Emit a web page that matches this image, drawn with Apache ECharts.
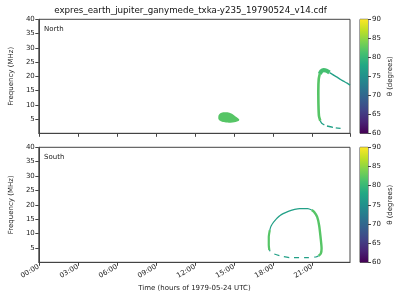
<!DOCTYPE html>
<html><head><meta charset="utf-8">
<script src="https://cdn.jsdelivr.net/npm/echarts@6/dist/echarts.min.js"></script>
<style>html,body{margin:0;padding:0;background:#fff}#c{width:400px;height:300px}</style>
</head><body><div id="c"></div>
<script>
const titleText = 'expres_earth_jupiter_ganymede_txka-y235_19790524_v14.cdf';
const panelNames = ['North', 'South'];
const xAxisTitle = 'Time (hours of 1979-05-24 UTC)';
const yAxisTitle = 'Frequency (MHz)';
const cbarTitle = 'θ (degrees)';
const xTickStep = 3;          // hours
const yTickStep = 5;          // MHz
const thetaRange = [60, 90];  // colorbar
const thetaTickStep = 5;

// ---- North panel emission: [time (h), frequency (MHz)] ----
const northBlob = [[13.8,5.6],[13.85,6.5],[14.05,7.2],[14.4,7.35],[14.75,7.0],[15.1,6.0],[15.4,4.9],[15.35,4.3],[14.9,3.8],[14.4,3.75],[14.0,4.2],[13.82,4.9]];
const northBlobTheta = 82;
const northVertical = [[21.64,4.4],[21.54,6],[21.5,10],[21.49,15],[21.52,19],[21.6,20.8]];
const northVerticalTheta = 82;
const northTop = [[21.6,20.8],[21.72,21.8],[21.9,22.2],[22.1,22.0],[22.35,21.3]];
const northTopTheta = 81;
const northTail = [[22.35,21.3],[22.6,20.6],[22.93,19.7],[23.2,18.9],[23.42,18.3],[23.7,17.6],[23.93,16.9]];
const northTailTheta = 77;
const northBottom = [[21.64,4.4],[21.75,3.5],[22.05,2.7],[22.43,2.3],[22.8,1.95],[23.2,1.75]];
const northBottomTheta = 77;

// ---- South panel emission ----
const southLeft = [[17.72,4.2],[17.68,6],[17.68,8.8],[17.76,11.2]];
const southLeftTheta = 82;
const southTop = [[17.76,11.2],[17.85,12.5],[18.05,14.0],[18.55,16.3],[19.18,17.7],[19.67,18.4],[20.05,18.7],[20.68,18.7],[20.98,18.2]];
const southTopTheta = 77;
const southRight = [[20.98,18.2],[21.17,17.5],[21.4,15.8],[21.55,12.9],[21.66,8.8],[21.74,4.8],[21.68,3.0],[21.52,2.3]];
const southRightTheta = 82;
const southBottom = [[21.52,2.3],[21.3,1.85],[20.42,1.6],[19.43,1.6],[18.68,2.1],[18.05,3.0],[17.72,4.2]];
const southBottomTheta = 77;

const viridis = ['#440154','#482475','#414487','#355f8d','#2a788e','#21918c','#22a884','#44bf70','#7ad151','#bddf26','#fde725'];
function hex2rgb(h){return [1,3,5].map(i=>parseInt(h.substr(i,2),16));}
function thetaColor(th){
  let t = (th - thetaRange[0])/(thetaRange[1]-thetaRange[0]);
  t = Math.max(0, Math.min(1, t)) * 10;
  const i = Math.min(9, Math.floor(t)), f = t - i;
  const a = hex2rgb(viridis[i]), b = hex2rgb(viridis[i+1]);
  return 'rgb(' + a.map((v,k)=>Math.round(v+(b[k]-v)*f)).join(',') + ')';
}

const FONT = 'DejaVu Sans';
const AX = '#444';
const pad = n => (n < 10 ? '0' : '') + n;

const plotLeft = 31, plotW = 319;
const panels = [{top:19.3, h:114}, {top:147.3, h:115}];

const grids = [], xAxes = [], yAxes = [];
panels.forEach((p, i) => {
  grids.push({left:plotLeft, top:p.top, width:plotW, height:p.h, show:true, borderColor:AX, borderWidth:1, backgroundColor:'#fff'});
  xAxes.push({
    type:'value', gridIndex:i, min:0, max:23.925, interval:xTickStep,
    axisLine:{show:true, lineStyle:{color:AX, width:1}},
    axisTick:{show:true, inside:false, length:3.5, lineStyle:{color:AX}},
    splitLine:{show:false},
    axisLabel:{show:i===1, rotate:30, fontSize:7, color:'#222', fontFamily:FONT, margin:4,
      showMaxLabel:false,
      formatter: v => (v % xTickStep === 0) ? pad(v) + ':00' : ''},
    name: i===1 ? xAxisTitle : '', nameLocation:'middle', nameGap:22,
    nameTextStyle:{fontSize:7, color:'#222', fontFamily:FONT}
  });
  yAxes.push({
    type:'value', gridIndex:i, min:0, max:40, interval:yTickStep,
    axisLine:{show:true, lineStyle:{color:AX, width:1}},
    axisTick:{show:true, inside:false, length:3.5, lineStyle:{color:AX}},
    splitLine:{show:false},
    axisLabel:{fontSize:7, color:'#222', fontFamily:FONT, margin:4, showMinLabel:false,
      formatter: v => v === 0 ? '' : String(v)},
    name:yAxisTitle, nameLocation:'middle', nameGap:18,
    nameTextStyle:{fontSize:7, color:'#222', fontFamily:FONT}
  });
});
// colorbars
panels.forEach((p, i) => {
  grids.push({left:360, top:p.top, width:8, height:p.h, show:true, borderColor:AX, borderWidth:1});
  xAxes.push({type:'category', gridIndex:2+i, data:['c'], show:false});
  yAxes.push({
    type:'value', gridIndex:2+i, position:'right', min:thetaRange[0], max:thetaRange[1], interval:thetaTickStep,
    axisLine:{show:false}, splitLine:{show:false},
    axisTick:{show:true, inside:false, length:3, lineStyle:{color:AX}},
    axisLabel:{fontSize:7, color:'#222', fontFamily:FONT, margin:4},
    name:cbarTitle, nameLocation:'middle', nameRotate:90, nameGap:19,
    nameTextStyle:{fontSize:7, color:'#222', fontFamily:FONT}
  });
});

const gradStops = viridis.map((c, k) => ({offset:k/10, color:c}));

function lineSeries(pts, theta, width, panel, dashed){
  return {
    type:'line', xAxisIndex:panel, yAxisIndex:panel, data:pts, showSymbol:false, symbol:'none',
    smooth:0.25, clip:true, silent:true, animation:false,
    lineStyle:{color:thetaColor(theta), width:width, type: dashed || 'solid', cap:'butt'}
  };
}

const series = [
  {
    type:'custom', xAxisIndex:0, yAxisIndex:0, data:northBlob, animation:false, silent:true,
    renderItem: (params, api) => {
      if (params.dataIndex !== 0) return null;
      const pts = northBlob.map(d => api.coord(d));
      return {type:'polygon', shape:{points:pts, smooth:0.4}, style:{fill:thetaColor(northBlobTheta), stroke:null}};
    }
  },
  lineSeries(northVertical, northVerticalTheta, 2.6, 0),
  lineSeries(northTop, northTopTheta, 4.2, 0),
  lineSeries(northTail, northTailTheta, 1.3, 0),
  lineSeries(northBottom, northBottomTheta, 1.3, 0, [6, 3]),
  lineSeries(southLeft, southLeftTheta, 2.2, 1),
  lineSeries(southTop, southTopTheta, 1.2, 1),
  lineSeries(southRight, southRightTheta, 2.4, 1),
  lineSeries(southBottom, southBottomTheta, 1.2, 1, [5, 5]),
];
panels.forEach((p, i) => {
  series.push({
    type:'bar', xAxisIndex:2+i, yAxisIndex:2+i, data:[thetaRange[1]], barWidth:'100%', animation:false, silent:true,
    itemStyle:{color:new echarts.graphic.LinearGradient(0,1,0,0,gradStops)}
  });
});

const graphics = [
  {type:'text', x:190.5, y:11, style:{text:titleText, textAlign:'center', textVerticalAlign:'middle', fontSize:8.7, fontFamily:FONT, fill:'#111'}},
];
panels.forEach((p, i) => {
  graphics.push({type:'text', x:44, y:p.top+9.5, style:{text:panelNames[i], textAlign:'left', textVerticalAlign:'middle', fontSize:7, fontFamily:FONT, fill:'#222'}});
});

const chart = echarts.init(document.getElementById('c'), null, {renderer:'canvas'});
chart.setOption({
  animation:false,
  backgroundColor:'#fff',
  grid:grids, xAxis:xAxes, yAxis:yAxes, series:series, graphic:graphics
});
</script></body></html>
